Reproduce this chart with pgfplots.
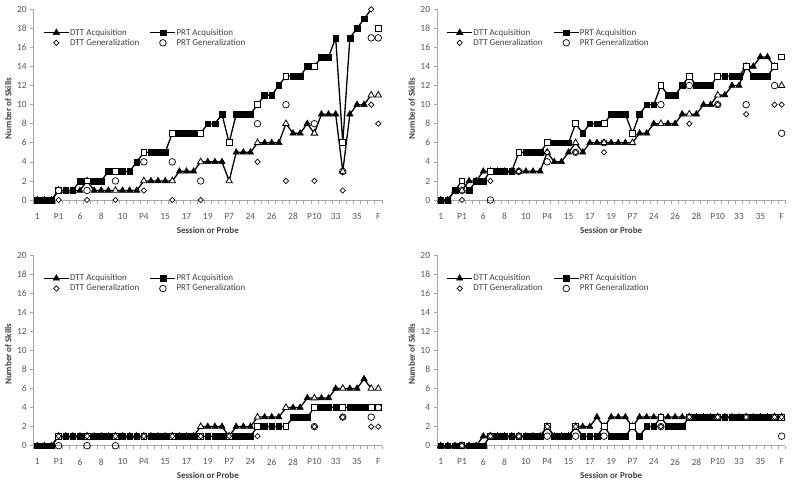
\documentclass[border=0pt]{standalone}
\usepackage{fontspec}
\setmainfont{Carlito}
\usepackage{pgfplots}
\usepackage{pgfplotstable}
\pgfplotsset{compat=1.18}
\definecolor{axgray}{HTML}{A6A6A6}
\definecolor{txt}{HTML}{404040}
\definecolor{ticktxt}{HTML}{595959}

% columns: i = category index, d = DTT acquisition, p = PRT acquisition,
% k = probe (open DTT marker), q = PRT marker (0 filled, 1 open, 2 none),
% dg = DTT generalization, pg = PRT generalization
\pgfplotstableread{
i d p k q dg pg
0 0 0 0 0 nan nan
1 0 0 0 0 nan nan
2 0 0 0 0 nan nan
3 1 1 1 1 0 1
4 1 1 0 0 nan nan
5 1 1 0 0 nan nan
6 1 2 0 0 nan nan
7 2 2 1 1 0 1
8 1 2 0 0 nan nan
9 1 2 0 0 nan nan
10 1 3 0 0 nan nan
11 1 3 1 1 0 2
12 1 3 0 0 nan nan
13 1 3 0 0 nan nan
14 1 4 0 0 nan nan
15 2 5 1 1 1 4
16 2 5 0 0 nan nan
17 2 5 0 0 nan nan
18 2 5 0 0 nan nan
19 2 7 1 1 0 4
20 3 7 0 0 nan nan
21 3 7 0 0 nan nan
22 3 7 0 0 nan nan
23 4 7 1 1 0 2
24 4 8 0 0 nan nan
25 4 8 0 0 nan nan
26 4 9 0 0 nan nan
27 2 6 1 1 nan nan
28 5 9 0 0 nan nan
29 5 9 0 0 nan nan
30 5 9 0 0 nan nan
31 6 10 1 1 4 8
32 6 11 0 0 nan nan
33 6 11 0 0 nan nan
34 6 12 0 0 nan nan
35 8 13 1 1 2 10
36 7 13 0 0 nan nan
37 7 13 0 0 nan nan
38 8 14 0 0 nan nan
39 7 14 1 1 2 8
40 9 15 0 0 nan nan
41 9 15 0 0 nan nan
42 9 17 0 0 nan nan
43 3 6 1 1 1 3
44 9 17 0 0 nan nan
45 10 18 0 0 nan nan
46 10 19 0 0 nan nan
47 11 20 1 2 10 17
48 11 18 1 1 8 17
}\tabA

\pgfplotstableread{
i d p k q dg pg
0 0 0 0 0 nan nan
1 0 0 0 0 nan nan
2 1 1 0 0 nan nan
3 1 2 1 1 0 1
4 2 1 0 0 nan nan
5 2 2 0 0 nan nan
6 3 2 0 0 nan nan
7 3 3 1 1 2 0
8 3 3 0 0 nan nan
9 3 3 0 0 nan nan
10 3 3 0 0 nan nan
11 3 5 1 1 3 3
12 3 5 0 0 nan nan
13 3 5 0 0 nan nan
14 3 5 0 0 nan nan
15 5 6 1 1 5 4
16 4 6 0 0 nan nan
17 4 6 0 0 nan nan
18 5 6 0 0 nan nan
19 6 8 1 1 5 5
20 5 7 0 0 nan nan
21 6 8 0 0 nan nan
22 6 8 0 0 nan nan
23 6 8 1 1 5 6
24 6 9 0 0 nan nan
25 6 9 0 0 nan nan
26 6 9 0 0 nan nan
27 6 7 1 1 nan nan
28 7 9 0 0 nan nan
29 7 10 0 0 nan nan
30 8 10 0 0 nan nan
31 8 12 1 1 nan 10
32 8 11 0 0 nan nan
33 8 11 0 0 nan nan
34 9 12 0 0 nan nan
35 9 13 1 1 8 12
36 9 12 0 0 nan nan
37 10 12 0 0 nan nan
38 10 12 0 0 nan nan
39 11 13 1 1 10 10
40 11 13 0 0 nan nan
41 12 13 0 0 nan nan
42 12 13 0 0 nan nan
43 14 14 1 1 9 10
44 14 13 0 0 nan nan
45 15 13 0 0 nan nan
46 15 13 0 0 nan nan
47 14 14 1 1 10 12
48 12 15 1 1 10 7
}\tabB

\pgfplotstableread{
i d p k q dg pg
0 0 0 0 0 nan nan
1 0 0 0 0 nan nan
2 0 0 0 0 nan nan
3 1 1 1 1 1 0
4 1 1 0 0 nan nan
5 1 1 0 0 nan nan
6 1 1 0 0 nan nan
7 1 1 1 1 1 0
8 1 1 0 0 nan nan
9 1 1 0 0 nan nan
10 1 1 0 0 nan nan
11 1 1 1 1 1 0
12 1 1 0 0 nan nan
13 1 1 0 0 nan nan
14 1 1 0 0 nan nan
15 1 1 1 1 1 nan
16 1 1 0 0 nan nan
17 1 1 0 0 nan nan
18 1 1 0 0 nan nan
19 1 1 1 1 1 nan
20 1 1 0 0 nan nan
21 1 1 0 0 nan nan
22 1 1 0 0 nan nan
23 2 1 1 1 1 nan
24 2 1 0 0 nan nan
25 2 1 0 0 nan nan
26 2 1 0 0 nan nan
27 1 1 1 1 1 nan
28 2 1 0 0 nan nan
29 2 1 0 0 nan nan
30 2 1 0 0 nan nan
31 3 2 1 1 1 nan
32 3 2 0 0 nan nan
33 3 2 0 0 nan nan
34 3 2 0 0 nan nan
35 4 2 1 1 nan nan
36 4 3 0 0 nan nan
37 4 3 0 0 nan nan
38 5 3 0 0 nan nan
39 5 4 1 1 2 2
40 5 4 0 0 nan nan
41 5 4 0 0 nan nan
42 6 4 0 0 nan nan
43 6 4 1 1 3 3
44 6 4 0 0 nan nan
45 6 4 0 0 nan nan
46 7 4 0 0 nan nan
47 6 4 1 1 2 3
48 6 4 1 1 2 4
}\tabC

\pgfplotstableread{
i d p k q dg pg
0 0 0 0 0 nan nan
1 0 0 0 0 nan nan
2 0 0 0 0 nan nan
3 0 0 1 1 0 0
4 0 0 0 0 nan nan
5 0 0 0 0 nan nan
6 1 0 0 0 nan nan
7 1 1 1 1 1 1
8 1 1 0 0 nan nan
9 1 1 0 0 nan nan
10 1 1 0 0 nan nan
11 1 1 1 1 1 1
12 1 1 0 0 nan nan
13 1 1 0 0 nan nan
14 1 1 0 0 nan nan
15 2 2 1 1 2 1
16 1 1 0 0 nan nan
17 1 1 0 0 nan nan
18 1 1 0 0 nan nan
19 2 2 1 1 2 1
20 2 1 0 0 nan nan
21 2 1 0 0 nan nan
22 3 1 0 0 nan nan
23 2 2 1 1 nan 1
24 3 1 0 0 nan nan
25 3 1 0 0 nan nan
26 3 1 0 0 nan nan
27 2 2 1 1 nan nan
28 3 1 0 0 nan nan
29 3 2 0 0 nan nan
30 3 2 0 0 nan nan
31 3 3 1 1 2 2
32 3 2 0 0 nan nan
33 3 2 0 0 nan nan
34 3 2 0 0 nan nan
35 3 3 1 1 3 3
36 3 3 0 0 nan nan
37 3 3 0 0 nan nan
38 3 3 0 0 nan nan
39 3 3 1 1 3 3
40 3 3 0 0 nan nan
41 3 3 0 0 nan nan
42 3 3 0 0 nan nan
43 3 3 1 1 3 3
44 3 3 0 0 nan nan
45 3 3 0 0 nan nan
46 3 3 0 0 nan nan
47 3 3 1 1 3 3
48 3 3 1 1 3 1
}\tabD

\pgfplotsset{
  myleg/.style={legend image code/.code={\draw[mark repeat=2,mark phase=2,##1] plot coordinates {(0pt,0pt) (12.5pt,0pt) (25pt,0pt)};}},
  acqline/.style={black, line width=1.3pt, no markers, restrict x to domain=0:47, forget plot},
  trimark/.style={only marks, mark=triangle*, mark size=3.7pt, forget plot},
  sqmark/.style={only marks, mark=square*, mark size=2.9pt, forget plot},
  filledm/.style={mark options={fill=black, draw=black, line width=0.5pt}},
  openm/.style={mark options={fill=white, draw=black, line width=0.8pt}},
  diamm/.style={only marks, mark=square*, mark size=1.9pt, mark options={rotate=45, fill=white, draw=black, line width=0.7pt}, forget plot},
  circm/.style={only marks, mark=o, mark size=3.3pt, mark options={draw=black, line width=0.7pt}, forget plot},
  panel/.style={
    scale only axis, width=348.1pt, height=190.7pt,
    xmin=-0.5, xmax=48.5, ymin=0, ymax=20,
    axis x line*=bottom, axis y line*=left,
    axis line style={draw=axgray, line width=0.6pt, -},
    ytick={0,2,...,20},
    xtick={-0.5,0.5,...,48.5}, xticklabels={},
    extra x ticks={0,3,...,48},
    extra x tick labels={1,P1,6,8,10,P4,15,17,19,P7,24,26,28,P10,33,35,F},
    extra x tick style={major tick length=0pt, tick style={draw=none}, xticklabel style={yshift=-9.5pt}},
    tick align=outside, major tick length=3.5pt,
    tick style={draw=axgray, line width=0.6pt},
    tick label style={font=\fontsize{9.5}{10}\selectfont, text=ticktxt},
    /pgf/number format/assume math mode=true,
    xlabel={Session or Probe}, ylabel={Number of Skills},
    xlabel style={at={(axis description cs:0.5,-0.158)}, anchor=center, font=\fontsize{9}{10}\selectfont\bfseries, text=txt},
    ylabel style={at={(axis description cs:-0.073,0.48)}, anchor=center, font=\fontsize{9}{10}\selectfont\bfseries, text=txt},
    clip=false,
    myleg,
    legend columns=2,
    legend cell align=left,
    legend style={draw=none, fill=none, at={(axis description cs:0.0266,0.905)}, anchor=north west,
      font=\fontsize{9}{10}\selectfont, text=txt, inner sep=0pt,
      nodes={inner xsep=0.5pt, inner ysep=1.2pt},
      /tikz/every even column/.append style={column sep=10pt}},
  }
}

\newcommand\drawpanel[1]{%
  \addlegendimage{myleg, black, line width=1.3pt, mark=triangle*, mark size=3.7pt, mark options={fill=black, line width=0.5pt}}
  \addlegendentry{DTT Acquisition}
  \addlegendimage{myleg, black, line width=1.3pt, mark=square*, mark size=2.9pt, mark options={fill=black, line width=0.5pt}}
  \addlegendentry{PRT Acquisition}
  \addlegendimage{only marks, myleg, mark=square*, mark size=1.9pt, mark options={rotate=45, fill=white, draw=black, line width=0.7pt}}
  \addlegendentry{DTT Generalization}
  \addlegendimage{only marks, myleg, mark=o, mark size=3.3pt, mark options={draw=black, line width=0.7pt}}
  \addlegendentry{PRT Generalization}
  \addplot[acqline] table[x=i,y=d]{#1};
  \addplot[trimark, filledm, restrict expr to domain={\thisrow{k}}{0:0}] table[x=i,y=d]{#1};
  \addplot[trimark, openm, restrict expr to domain={\thisrow{k}}{1:1}] table[x=i,y=d]{#1};
  \addplot[acqline] table[x=i,y=p]{#1};
  \addplot[sqmark, filledm, restrict expr to domain={\thisrow{q}}{0:0}] table[x=i,y=p]{#1};
  \addplot[sqmark, openm, restrict expr to domain={\thisrow{q}}{1:1}] table[x=i,y=p]{#1};
  \addplot[diamm] table[x=i,y=dg]{#1};
  \addplot[circm] table[x=i,y=pg]{#1};
}

\begin{document}
\begin{tikzpicture}
\useasboundingbox (0pt,0pt) rectangle (800pt,483pt);
\begin{axis}[panel, at={(33.75pt,283pt)}, anchor=south west]
  \drawpanel{\tabA}
  \addplot[diamm] coordinates {(47,20)};
\end{axis}
\begin{axis}[panel, at={(437.1pt,283pt)}, anchor=south west]
  \drawpanel{\tabB}
\end{axis}
\begin{axis}[panel, at={(33.75pt,37.3pt)}, anchor=south west]
  \drawpanel{\tabC}
\end{axis}
\begin{axis}[panel, at={(437.1pt,37.3pt)}, anchor=south west]
  \drawpanel{\tabD}
\end{axis}
\end{tikzpicture}
\end{document}
